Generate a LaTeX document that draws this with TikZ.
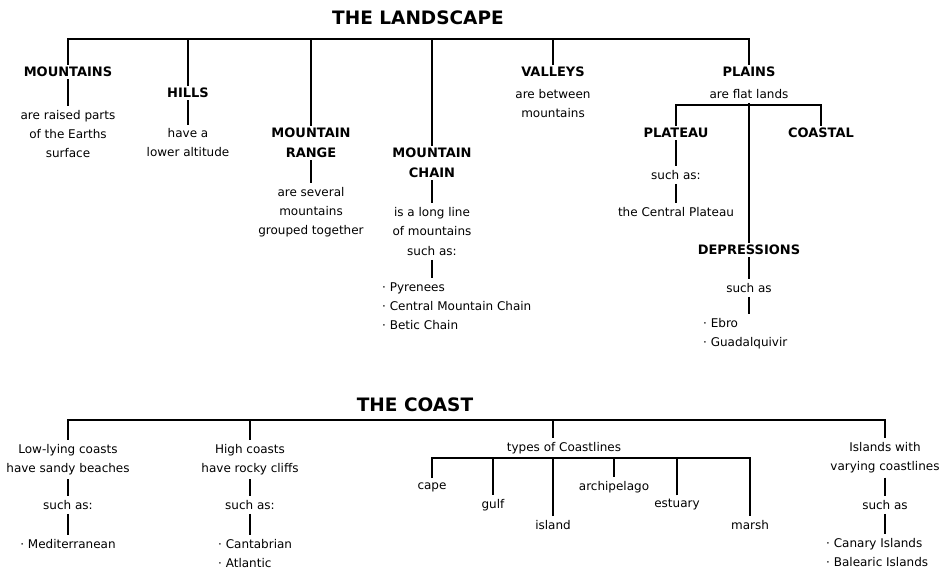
\documentclass[tikz,border=0pt]{standalone}
\usepackage{fontspec}
\setmainfont{DejaVu Sans}

\begin{document}
\begin{tikzpicture}[
x = 1pt, y = -1pt,
  ttl/.style = {font=\fontsize{18.5}{20}\selectfont\bfseries, inner sep=1pt},
 head/.style = {font=\fontsize{13}{20}\selectfont\bfseries, align=center, inner sep=2pt},
  txt/.style = {font=\fontsize{12}{19}\selectfont, align=center, inner sep=4pt},
  lst/.style = {txt, align=left, anchor=west},
 link/.style = {line width=1.8pt}
                 ]
\useasboundingbox (0,0) rectangle (943,570);

% the landscape
\node[ttl]  (land)     at (418,18)  {THE LANDSCAPE};
\coordinate (lbus)     at (0,39);

\node[head] (mnt)      at (68,72)   {MOUNTAINS};
\node[txt]  (mntd)     at (68,134)  {are raised parts\\of the Earths\\surface};

\node[head] (hills)    at (188,93)  {HILLS};
\node[txt]  (hillsd)   at (188,143) {have a\\lower altitude};

\node[head] (range)    at (311,143) {MOUNTAIN\\RANGE};
\node[txt]  (ranged)   at (311,212) {are several\\mountains\\grouped together};

\node[head] (chain)    at (432,163) {MOUNTAIN\\CHAIN};
\node[txt]  (chaind)   at (432,221.5) {is a long line\\of mountains};
\node[txt]  (chainsa)  at (432,251) {such as:};
\node[lst]  (chainl)   at (378,306) {· Pyrenees\\· Central Mountain Chain\\· Betic Chain};

\node[head] (valleys)  at (553,72)  {VALLEYS};
\node[txt]  (valleysd) at (553,104) {are between\\mountains};

\node[head] (plains)   at (749,72)  {PLAINS};
\node[txt]  (plainsd)  at (749,94)  {are flat lands};
\coordinate (pbus)     at (0,105);

\node[head] (plateau)  at (676,133) {PLATEAU};
\node[txt]  (plateausa) at (676,175) {such as:};
\node[txt]  (cplat)    at (676,212) {the Central Plateau};

\node[head] (coastal)  at (821,133) {COASTAL};

\node[head] (depr)     at (749,250) {DEPRESSIONS};
\node[txt]  (deprsa)   at (749,288) {such as};
\node[lst]  (deprl)    at (699,334) {· Ebro\\· Guadalquivir};

\draw[link] (mnt.north) -- (mnt.north |- lbus) -| (plains.north);
\foreach \n in {hills, range, chain, valleys}
  \draw[link] (\n.north) -- (\n.north |- lbus);
\draw[link] (mnt) -- (mntd);
\draw[link] (hills) -- (hillsd);
\draw[link] (range) -- (ranged);
\draw[link] (chain) -- (chaind);
\draw[link] (chainsa) -- (chainsa |- chainl.north);
\draw[link] (plateau.north) -- (plateau.north |- pbus) -| (coastal.north);
\draw[link] (plainsd.south) -- (depr.north);
\draw[link] (plateau) -- (plateausa);
\draw[link] (plateausa) -- (cplat);
\draw[link] (depr) -- (deprsa);
\draw[link] (deprsa) -- (deprsa |- deprl.north);

% the coast
\node[ttl]  (coast)    at (415,405) {THE COAST};
\coordinate (cbus)     at (0,420);

\node[txt]  (low)      at (68,459.5) {Low-lying coasts\\have sandy beaches};
\node[txt]  (lowsa)    at (68,505)  {such as:};
\node[txt]  (lowl)     at (68,544)  {· Mediterranean};

\node[txt]  (high)     at (250,459.5) {High coasts\\have rocky cliffs};
\node[txt]  (highsa)   at (250,505) {such as:};
\node[lst]  (highl)    at (214,553.5) {· Cantabrian\\· Atlantic};

\node[txt]  (types)    at (564,448) {types of Coastlines};
\coordinate (tbus)     at (0,458);
\node[txt]  (cape)     at (432,487) {cape};
\node[txt]  (gulf)     at (493,505) {gulf};
\node[txt]  (island)   at (553,525) {island};
\node[txt]  (archi)    at (614,487) {archipelago};
\node[txt]  (estuary)  at (677,505) {estuary};
\node[txt]  (marsh)    at (750,525) {marsh};

\node[txt]  (isl)      at (885,458) {Islands with\\varying coastlines};
\node[txt]  (islsa)    at (885,505) {such as};
\node[lst]  (isll)     at (822,552.5) {· Canary Islands\\· Balearic Islands};

\draw[link] (low.north) -- (low.north |- cbus) -| (isl.north);
\draw[link] (high.north) -- (high.north |- cbus);
\draw[link] (island.north |- cbus) -- (island.north |- types.north);
\draw[link] (cape.north) -- (cape.north |- tbus) -| (marsh.north);
\foreach \n in {gulf, island, archi, estuary}
  \draw[link] (\n.north) -- (\n.north |- tbus);
\draw[link] (low) -- (lowsa);
\draw[link] (lowsa) -- (lowl);
\draw[link] (high) -- (highsa);
\draw[link] (highsa) -- (highsa |- highl.north);
\draw[link] (isl) -- (islsa);
\draw[link] (islsa) -- (islsa |- isll.north);
\end{tikzpicture}
\end{document}
